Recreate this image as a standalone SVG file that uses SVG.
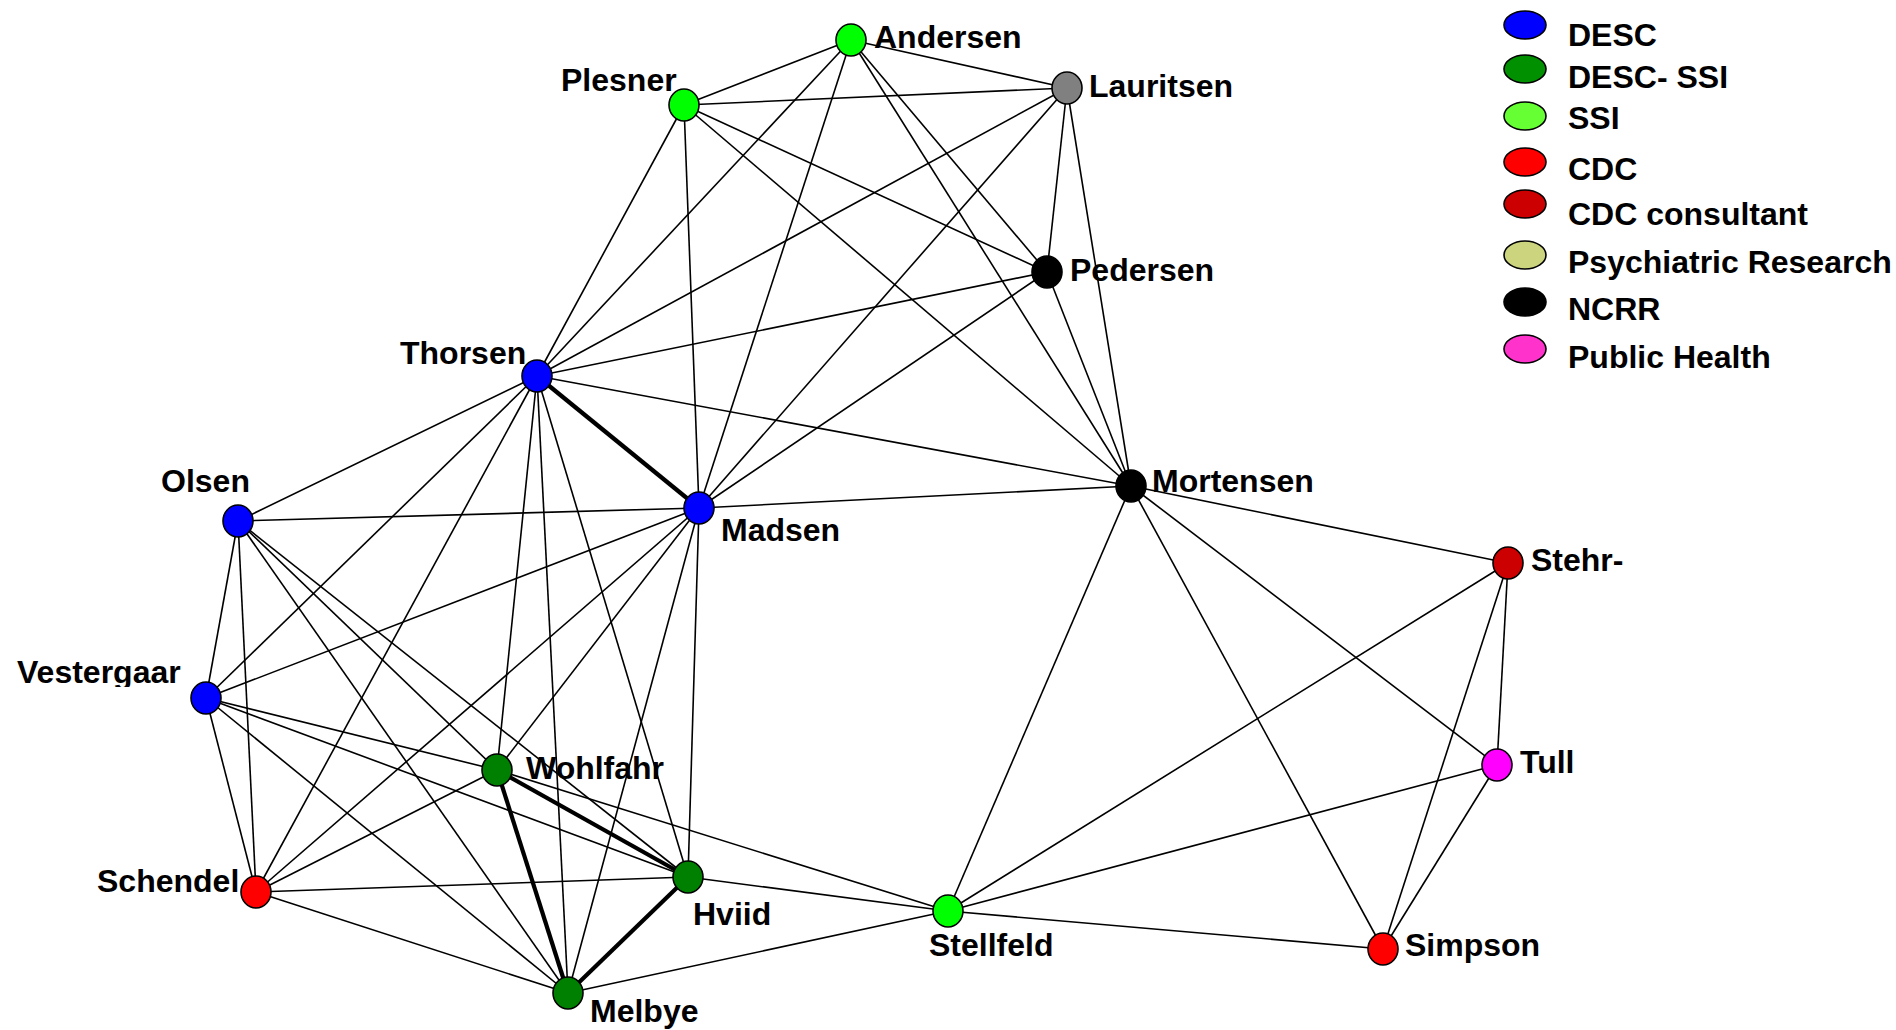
<svg xmlns="http://www.w3.org/2000/svg" width="1896" height="1030" viewBox="0 0 1896 1030">
<style>
.e{stroke:#000;stroke-width:1.6;fill:none}
.t{stroke:#000;stroke-width:4.2;fill:none}
.n{stroke:#000;stroke-width:1.6}
text{font-family:"Liberation Sans",Arial,sans-serif;font-weight:bold;font-size:32px;fill:#000}
.lg{stroke:#000;stroke-width:1.6}
</style>
<defs>
<clipPath id="vclip"><rect x="0" y="640" width="200" height="47"/></clipPath>
</defs>
<rect width="1896" height="1030" fill="#fff"/>
<g id="connectors">
<line class="e" x1="851" y1="40" x2="684" y2="105"/>
<line class="e" x1="851" y1="40" x2="1067" y2="88"/>
<line class="e" x1="851" y1="40" x2="537" y2="376"/>
<line class="e" x1="851" y1="40" x2="699" y2="508"/>
<line class="e" x1="851" y1="40" x2="1047" y2="272"/>
<line class="e" x1="851" y1="40" x2="1131" y2="486"/>
<line class="e" x1="684" y1="105" x2="1067" y2="88"/>
<line class="e" x1="684" y1="105" x2="537" y2="376"/>
<line class="e" x1="684" y1="105" x2="699" y2="508"/>
<line class="e" x1="684" y1="105" x2="1047" y2="272"/>
<line class="e" x1="684" y1="105" x2="1131" y2="486"/>
<line class="e" x1="1067" y1="88" x2="537" y2="376"/>
<line class="e" x1="1067" y1="88" x2="699" y2="508"/>
<line class="e" x1="1067" y1="88" x2="1047" y2="272"/>
<line class="e" x1="1067" y1="88" x2="1131" y2="486"/>
<line class="e" x1="1047" y1="272" x2="537" y2="376"/>
<line class="e" x1="1047" y1="272" x2="699" y2="508"/>
<line class="e" x1="1047" y1="272" x2="1131" y2="486"/>
<line class="t" x1="537" y1="376" x2="699" y2="508"/>
<line class="e" x1="537" y1="376" x2="1131" y2="486"/>
<line class="e" x1="537" y1="376" x2="238" y2="521"/>
<line class="e" x1="537" y1="376" x2="206" y2="698"/>
<line class="e" x1="537" y1="376" x2="256" y2="892"/>
<line class="e" x1="537" y1="376" x2="497" y2="770"/>
<line class="e" x1="537" y1="376" x2="568" y2="993"/>
<line class="e" x1="537" y1="376" x2="688" y2="877"/>
<line class="e" x1="699" y1="508" x2="1131" y2="486"/>
<line class="e" x1="699" y1="508" x2="238" y2="521"/>
<line class="e" x1="699" y1="508" x2="206" y2="698"/>
<line class="e" x1="699" y1="508" x2="256" y2="892"/>
<line class="e" x1="699" y1="508" x2="497" y2="770"/>
<line class="e" x1="699" y1="508" x2="568" y2="993"/>
<line class="e" x1="699" y1="508" x2="688" y2="877"/>
<line class="e" x1="238" y1="521" x2="206" y2="698"/>
<line class="e" x1="238" y1="521" x2="256" y2="892"/>
<line class="e" x1="238" y1="521" x2="497" y2="770"/>
<line class="e" x1="238" y1="521" x2="688" y2="877"/>
<line class="e" x1="238" y1="521" x2="568" y2="993"/>
<line class="e" x1="206" y1="698" x2="256" y2="892"/>
<line class="e" x1="206" y1="698" x2="497" y2="770"/>
<line class="e" x1="206" y1="698" x2="688" y2="877"/>
<line class="e" x1="206" y1="698" x2="568" y2="993"/>
<line class="e" x1="256" y1="892" x2="497" y2="770"/>
<line class="e" x1="256" y1="892" x2="688" y2="877"/>
<line class="e" x1="256" y1="892" x2="568" y2="993"/>
<line class="t" x1="497" y1="770" x2="688" y2="877"/>
<line class="t" x1="497" y1="770" x2="568" y2="993"/>
<line class="e" x1="497" y1="770" x2="948" y2="911"/>
<line class="t" x1="688" y1="877" x2="568" y2="993"/>
<line class="e" x1="688" y1="877" x2="948" y2="911"/>
<line class="e" x1="568" y1="993" x2="948" y2="911"/>
<line class="e" x1="948" y1="911" x2="1131" y2="486"/>
<line class="e" x1="948" y1="911" x2="1508" y2="563"/>
<line class="e" x1="948" y1="911" x2="1497" y2="765"/>
<line class="e" x1="948" y1="911" x2="1383" y2="949"/>
<line class="e" x1="1131" y1="486" x2="1508" y2="563"/>
<line class="e" x1="1131" y1="486" x2="1497" y2="765"/>
<line class="e" x1="1131" y1="486" x2="1383" y2="949"/>
<line class="e" x1="1508" y1="563" x2="1497" y2="765"/>
<line class="e" x1="1508" y1="563" x2="1383" y2="949"/>
<line class="e" x1="1497" y1="765" x2="1383" y2="949"/>
</g>
<g id="Andersen"><ellipse class="n" cx="851" cy="40" rx="15" ry="16" fill="#00FF00"/><text x="874" y="48">Andersen</text></g>
<g id="Plesner"><ellipse class="n" cx="684" cy="105" rx="15" ry="16" fill="#00FF00"/><text x="561" y="91">Plesner</text></g>
<g id="Lauritsen"><ellipse class="n" cx="1067" cy="88" rx="15" ry="16" fill="#808080"/><text x="1089" y="97">Lauritsen</text></g>
<g id="Pedersen"><ellipse class="n" cx="1047" cy="272" rx="15" ry="16" fill="#000"/><text x="1070" y="281">Pedersen</text></g>
<g id="Thorsen"><ellipse class="n" cx="537" cy="376" rx="15" ry="16" fill="#0000FF"/><text x="400" y="364">Thorsen</text></g>
<g id="Madsen"><ellipse class="n" cx="699" cy="508" rx="15" ry="16" fill="#0000FF"/><text x="721" y="541">Madsen</text></g>
<g id="Mortensen"><ellipse class="n" cx="1131" cy="486" rx="15" ry="16" fill="#000"/><text x="1152" y="492">Mortensen</text></g>
<g id="Olsen"><ellipse class="n" cx="238" cy="521" rx="15" ry="16" fill="#0000FF"/><text x="161" y="492">Olsen</text></g>
<g id="Vestergaar"><ellipse class="n" cx="206" cy="698" rx="15" ry="16" fill="#0000FF"/><text x="17" y="683" clip-path="url(#vclip)">Vestergaar</text></g>
<g id="Wohlfahr"><ellipse class="n" cx="497" cy="770" rx="15" ry="16" fill="#008000"/><text x="526" y="779">Wohlfahr</text></g>
<g id="Hviid"><ellipse class="n" cx="688" cy="877" rx="15" ry="16" fill="#008000"/><text x="693" y="925">Hviid</text></g>
<g id="Schendel"><ellipse class="n" cx="256" cy="892" rx="15" ry="16" fill="#FF0000"/><text x="97" y="892">Schendel</text></g>
<g id="Melbye"><ellipse class="n" cx="568" cy="993" rx="15" ry="16" fill="#008000"/><text x="590" y="1022">Melbye</text></g>
<g id="Stellfeld"><ellipse class="n" cx="948" cy="911" rx="15" ry="16" fill="#00FF00"/><text x="929" y="956">Stellfeld</text></g>
<g id="Simpson"><ellipse class="n" cx="1383" cy="949" rx="15" ry="16" fill="#FF0000"/><text x="1405" y="956">Simpson</text></g>
<g id="Tull"><ellipse class="n" cx="1497" cy="765" rx="15" ry="16" fill="#FF00FF"/><text x="1520" y="773">Tull</text></g>
<g id="Stehr"><ellipse class="n" cx="1508" cy="563" rx="15" ry="16" fill="#CC0000"/><text x="1531" y="571">Stehr-</text></g>
<g id="legend">
<ellipse class="lg" cx="1525" cy="25" rx="21" ry="14" fill="#0000FF"/><text x="1568" y="46">DESC</text>
<ellipse class="lg" cx="1525" cy="69" rx="21" ry="14" fill="#009000"/><text x="1568" y="88">DESC- SSI</text>
<ellipse class="lg" cx="1525" cy="116" rx="21" ry="14" fill="#66FF33"/><text x="1568" y="129">SSI</text>
<ellipse class="lg" cx="1525" cy="162" rx="21" ry="14" fill="#FF0000"/><text x="1568" y="180">CDC</text>
<ellipse class="lg" cx="1525" cy="204" rx="21" ry="14" fill="#CC0000"/><text x="1568" y="225">CDC consultant</text>
<ellipse class="lg" cx="1525" cy="255" rx="21" ry="14" fill="#CCD47E"/><text x="1568" y="273">Psychiatric Research</text>
<ellipse class="lg" cx="1525" cy="302" rx="21" ry="14" fill="#000"/><text x="1568" y="320">NCRR</text>
<ellipse class="lg" cx="1525" cy="349" rx="21" ry="14" fill="#FF33CC"/><text x="1568" y="368">Public Health</text>
</g>
</svg>
